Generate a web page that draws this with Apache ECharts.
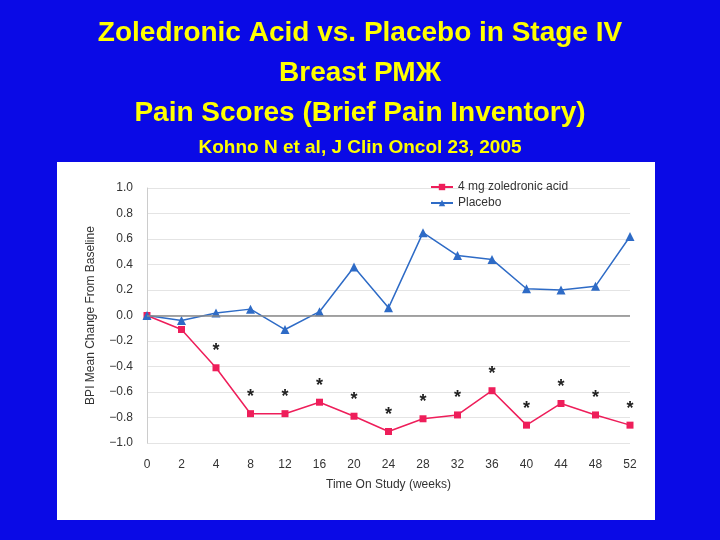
<!DOCTYPE html>
<html><head><meta charset="utf-8">
<script src="https://cdn.jsdelivr.net/npm/echarts@6/dist/echarts.min.js"></script>
<style>html,body{margin:0;padding:0;background:#0a0ae6}#c{width:720px;height:540px}</style>
</head><body><div id="c"></div>
<script>
const weeks = ["0","2","4","8","12","16","20","24","28","32","36","40","44","48","52"];
const zoledronic = [0.0,-0.11,-0.41,-0.77,-0.77,-0.68,-0.79,-0.91,-0.81,-0.78,-0.59,-0.86,-0.69,-0.78,-0.86];
const placebo = [0.0,-0.04,0.02,0.05,-0.11,0.03,0.38,0.06,0.65,0.47,0.44,0.21,0.20,0.23,0.62];
const starred = [false,false,true,true,true,true,true,true,true,true,true,true,true,true,true];

const chart = echarts.init(document.getElementById("c"));
const font = "Liberation Sans, Arial, sans-serif";
chart.setOption({
    backgroundColor: "#0a0ae6",
    animation: false,
    title: [
        { text: "Zoledronic Acid vs. Placebo in Stage IV\nBreast РМЖ\nPain Scores (Brief Pain Inventory)",
          left: "center", top: 8,
          textStyle: { color: "#ffff00", fontSize: 28, fontWeight: "bold", fontFamily: font, lineHeight: 40 } },
        { text: "Kohno N et al, J Clin Oncol 23, 2005", left: "center", top: 133,
          textStyle: { color: "#ffff00", fontSize: 19, fontWeight: "bold", fontFamily: font } }
    ],
    graphic: [{ type: "rect", z: -1, shape: { x: 57, y: 162, width: 598, height: 358 },
                style: { fill: "#ffffff" } }],
    legend: {
        top: 176, left: 425, orient: "vertical", itemGap: 4, itemWidth: 22, itemHeight: 8,
        textStyle: { color: "#333", fontSize: 12, fontFamily: font },
        data: ["4 mg zoledronic acid", "Placebo"]
    },
    grid: { left: 147, right: 90, top: 188, bottom: 97 },
    xAxis: {
        type: "category", data: weeks, boundaryGap: false,
        name: "Time On Study (weeks)", nameLocation: "middle", nameGap: 36,
        nameTextStyle: { color: "#333", fontSize: 12, fontFamily: font },
        axisLine: { show: false }, axisTick: { show: false },
        axisLabel: { color: "#333", fontSize: 12, fontFamily: font, margin: 16 }
    },
    yAxis: {
        type: "value", min: -1, max: 1, interval: 0.2,
        name: "BPI Mean Change From Baseline", nameLocation: "middle", nameGap: 50,
        nameTextStyle: { color: "#333", fontSize: 12, fontFamily: font },
        axisLine: { show: true, lineStyle: { color: "#ccc" } },
        axisLabel: { color: "#333", fontSize: 12, fontFamily: font, margin: 14,
                     formatter: v => v.toFixed(1).replace("-", "\u2212") },
        splitLine: { lineStyle: { color: "#e4e4e4" } }
    },
    series: [
        { name: "4 mg zoledronic acid", type: "line", data: zoledronic,
          symbol: "rect", symbolSize: 7, color: "#ee1e5a", lineStyle: { width: 1.5 },
          label: { show: true, position: "top", distance: 4, fontSize: 18, fontWeight: "bold", color: "#222",
                   formatter: p => starred[p.dataIndex] ? "*" : "" } },
        { name: "Placebo", type: "line", data: placebo,
          symbol: "triangle", symbolSize: 9, color: "#2e6bc6", lineStyle: { width: 1.5 },
          markLine: { silent: true, symbol: "none", label: { show: false },
                      lineStyle: { color: "#888", type: "solid", width: 1.5 }, data: [{ yAxis: 0 }] } }
    ]
});
</script></body></html>
